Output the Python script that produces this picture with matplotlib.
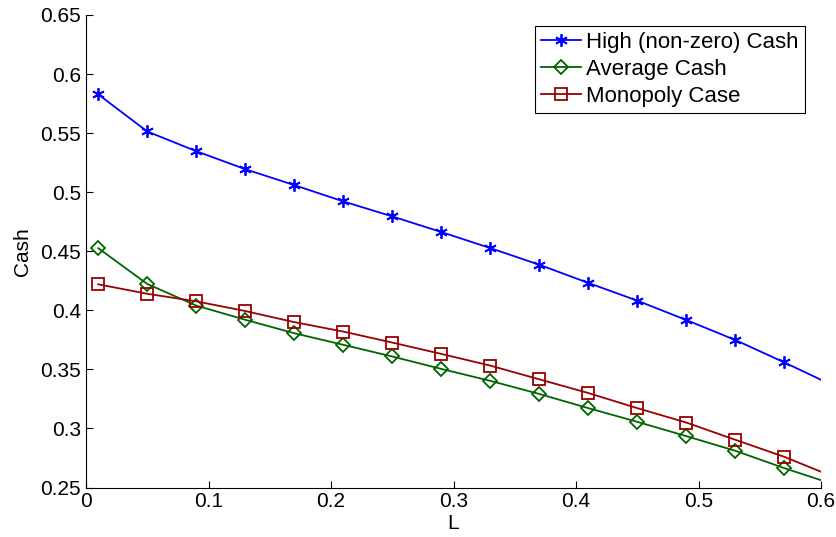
import matplotlib
matplotlib.use("Agg")
import matplotlib.pyplot as plt

L = [0.01, 0.05, 0.09, 0.13, 0.17, 0.21, 0.25, 0.29, 0.33, 0.37, 0.41, 0.45, 0.49, 0.53, 0.57, 0.61]
high_cash = [0.5828, 0.5514, 0.5347, 0.5195, 0.5060, 0.4922, 0.4795, 0.4663, 0.4527, 0.4386,
             0.4232, 0.4082, 0.3918, 0.3749, 0.3559, 0.3363]
avg_cash = [0.4526, 0.4223, 0.4040, 0.3920, 0.3806, 0.3708, 0.3609, 0.3504, 0.3403, 0.3292,
            0.3172, 0.3056, 0.2935, 0.2811, 0.2664, 0.2528]
mono_cash = [0.4220, 0.4140, 0.4076, 0.3994, 0.3900, 0.3820, 0.3727, 0.3631, 0.3532, 0.3416,
             0.3300, 0.3172, 0.3050, 0.2904, 0.2760, 0.2591]
labels = ["High (non-zero) Cash", "Average Cash", "Monopoly Case"]
xticks = [0, 0.1, 0.2, 0.3, 0.4, 0.5, 0.6]
yticks = [0.25, 0.3, 0.35, 0.4, 0.45, 0.5, 0.55, 0.6, 0.65]

plt.rcParams['font.family'] = ['Liberation Sans', 'DejaVu Sans']
fig = plt.figure(figsize=(8.36, 5.37), dpi=100)
ax = fig.add_axes([86/836, 1-487.5/537, (821-86)/836, (487.5-15)/537])

mk = list(range(len(L) - 1))
ax.plot(L, high_cash, color='#0000ff', marker=(6, 2, 0), markersize=9, markeredgewidth=1.3,
        linewidth=1.3, markevery=mk, label=labels[0])
ax.plot(L, avg_cash, color='#006400', marker='D', markersize=7, markerfacecolor='none',
        markeredgewidth=1.3, linewidth=1.3, markevery=mk, label=labels[1])
ax.plot(L, mono_cash, color='#990000', marker='s', markersize=8, markerfacecolor='none',
        markeredgewidth=1.3, linewidth=1.3, markevery=mk, label=labels[2])

ax.set_xlim(0, 0.6)
ax.set_ylim(0.25, 0.65)
ax.set_xticks(xticks)
ax.set_xticklabels([f"{v:g}" for v in xticks])
ax.set_yticks(yticks)
ax.set_yticklabels([f"{v:g}" for v in yticks])
ax.tick_params(direction='in', length=5, labelsize=15, width=0.8)
ax.spines['top'].set_visible(False)
ax.spines['right'].set_visible(False)
ax.set_xlabel('L', fontsize=15, labelpad=2)
ax.set_ylabel('Cash', fontsize=15, labelpad=6)

leg = ax.legend(loc='upper right', bbox_to_anchor=(805/836, 1-26/537), bbox_transform=fig.transFigure,
                fontsize=16, frameon=True, fancybox=False, edgecolor='black', framealpha=1,
                handlelength=1.8, handletextpad=0.25, borderpad=0.28, labelspacing=0.27,
                borderaxespad=0)
leg.get_frame().set_linewidth(0.8)

fig.savefig('out.png', dpi=100)
